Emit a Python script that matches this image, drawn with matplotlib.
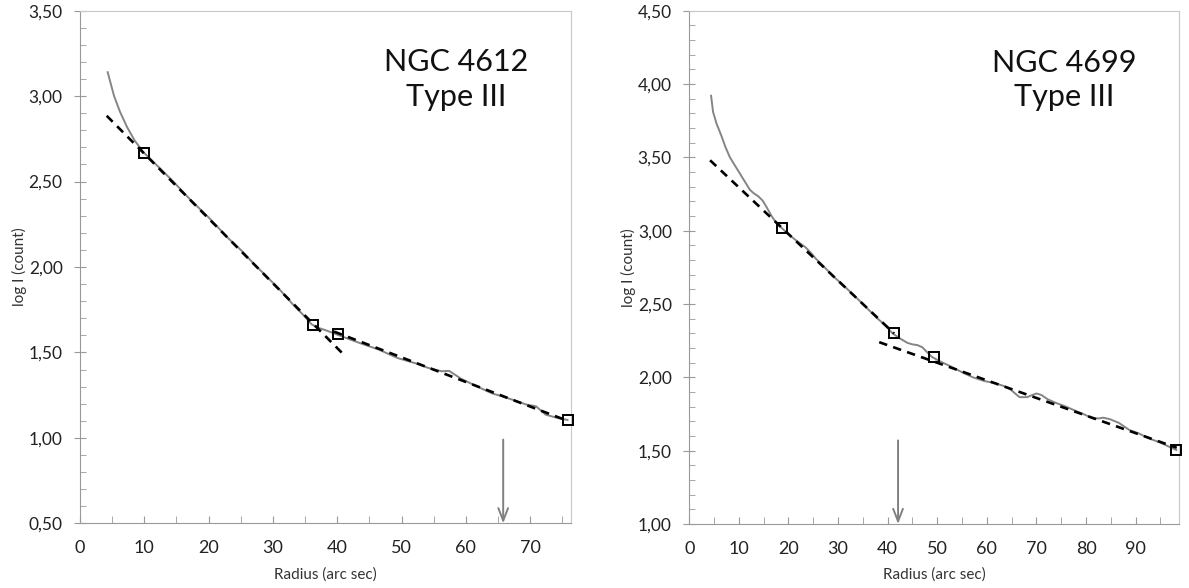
import numpy as np
import matplotlib.pyplot as plt
from matplotlib.ticker import MultipleLocator, FuncFormatter

plt.rcParams['font.family'] = ['Lato', 'DejaVu Sans']

# NGC 4612 profile (radius in arc sec, log I)
r_4612 = [4.3, 5.3, 6.2, 7.3, 8.5, 9.9, 11, 12.5, 14.5, 17, 20, 23, 25, 27, 29, 31, 33,
          34.7, 36.0, 37, 38.2, 39.6, 41, 43.5, 46.5, 49.4, 52.4, 54.1, 56.2, 57.4, 59.3,
          61.8, 64.1, 65.5, 67.1, 69.4, 70.9, 72.4, 74.2, 75.8]
logI_4612 = [3.14, 3.00, 2.91, 2.82, 2.74, 2.67, 2.63, 2.575, 2.50, 2.40, 2.29, 2.17, 2.10,
             2.02, 1.945, 1.87, 1.785, 1.72, 1.665, 1.645, 1.63, 1.61, 1.59, 1.555, 1.516,
             1.467, 1.434, 1.41, 1.39, 1.392, 1.345, 1.30, 1.26, 1.245, 1.225, 1.195, 1.185,
             1.136, 1.117, 1.105]
fit_in_4612_x = [4.15, 40.8]
fit_in_4612_y = [2.885, 1.495]
fit_out_4612_x = [39.5, 75.8]
fit_out_4612_y = [1.622, 1.10]
sq_4612_x = [9.9, 36.2, 40.1, 75.8]
sq_4612_y = [2.67, 1.66, 1.61, 1.105]
break_4612 = 65.8

# NGC 4699 profile
r_4699 = [4.4, 4.8, 5.5, 6.5, 7.3, 8.2, 9.2, 10.2, 11.2, 12.2, 13.0, 13.9, 14.8, 15.6, 16.6,
          17.6, 18.6, 20, 21.5, 22.5, 23.5, 24.5, 25.5, 27, 29, 30.5, 32, 33.5, 35, 36.5, 38,
          39.5, 41.0, 42.5, 44, 45, 46, 47, 48, 48.9, 50.5, 52.7, 55, 57.2, 59.5, 61.7, 63.5,
          64.7, 65.7, 66.6, 68.1, 69.2, 70.0, 71, 72.3, 74, 76.0, 78, 79.8, 81.3, 82.5, 83.5,
          84.8, 86.6, 88.8, 90.5, 92.6, 95, 97.5, 98.2]
logI_4699 = [3.92, 3.81, 3.73, 3.645, 3.57, 3.50, 3.445, 3.39, 3.335, 3.28, 3.255, 3.235, 3.205,
             3.16, 3.10, 3.05, 3.02, 2.975, 2.935, 2.91, 2.885, 2.85, 2.81, 2.76, 2.69, 2.645,
             2.598, 2.55, 2.50, 2.45, 2.40, 2.355, 2.30, 2.265, 2.235, 2.225, 2.22, 2.205, 2.17,
             2.14, 2.11, 2.075, 2.035, 2.00, 1.975, 1.96, 1.94, 1.92, 1.89, 1.865, 1.865, 1.88,
             1.89, 1.88, 1.85, 1.825, 1.80, 1.77, 1.745, 1.72, 1.72, 1.725, 1.715, 1.69, 1.64,
             1.62, 1.585, 1.555, 1.515, 1.505]
fit_in_4699_x = [4.2, 41.3]
fit_in_4699_y = [3.48, 2.30]
fit_out_4699_x = [38.3, 98.3]
fit_out_4699_y = [2.24, 1.52]
sq_4699_x = [18.6, 41.3, 49.3, 98.2]
sq_4699_y = [3.02, 2.30, 2.14, 1.505]
break_4699 = 42.1

panels = [
    dict(r=r_4612, y=logI_4612, fin=(fit_in_4612_x, fit_in_4612_y),
         fout=(fit_out_4612_x, fit_out_4612_y), sq=(sq_4612_x, sq_4612_y),
         brk=break_4612, arrow_top=0.99, xlim=(0, 76.3), ylim=(0.5, 3.5),
         name='NGC 4612\nType III', rect=[0.0673, 0.110, 0.4127, 0.8718]),
    dict(r=r_4699, y=logI_4699, fin=(fit_in_4699_x, fit_in_4699_y),
         fout=(fit_out_4699_x, fit_out_4699_y), sq=(sq_4699_x, sq_4699_y),
         brk=break_4699, arrow_top=1.57, xlim=(0, 98.8), ylim=(1.0, 4.5),
         name='NGC 4699\nType III', rect=[0.5797, 0.1088, 0.4121, 0.873]),
]

fig = plt.figure(figsize=(11.89, 5.88), dpi=100)
comma = FuncFormatter(lambda v, p: f'{v:.2f}'.replace('.', ','))

for p in panels:
    ax = fig.add_axes(p['rect'])
    ax.plot(p['r'], p['y'], color='#858585', lw=1.4, zorder=2)
    for fx, fy in (p['fin'], p['fout']):
        ax.plot(fx, fy, color='black', lw=1.9, linestyle=(0, (3.2, 2.4)), zorder=3)
    ax.plot(p['sq'][0], p['sq'][1], 's', ms=7.5, mfc='none', mec='black', mew=1.4,
            zorder=4, clip_on=False)
    ax.annotate('', xy=(p['brk'], p['ylim'][0]), xytext=(p['brk'], p['arrow_top']),
                arrowprops=dict(arrowstyle='->,head_length=0.9,head_width=0.35',
                                color='#808080', lw=1.4, shrinkA=0, shrinkB=0))
    ax.text(0.766, 0.865, p['name'], transform=ax.transAxes, ha='center', va='center',
            fontsize=22, color='#111111', linespacing=1.3)
    ax.set_xlim(*p['xlim'])
    ax.set_ylim(*p['ylim'])
    ax.xaxis.set_major_locator(MultipleLocator(10))
    ax.xaxis.set_minor_locator(MultipleLocator(5))
    ax.yaxis.set_major_locator(MultipleLocator(0.5))
    ax.yaxis.set_minor_locator(MultipleLocator(0.1))
    ax.yaxis.set_major_formatter(comma)
    ax.tick_params(axis='x', which='both', direction='in', length=5, color='#999999',
                   labelsize=13, labelcolor='#222222', pad=12)
    ax.tick_params(axis='y', which='major', direction='inout', length=9, color='#999999',
                   labelsize=12.5, labelcolor='#222222', pad=8)
    ax.tick_params(axis='y', which='minor', direction='in', length=4, color='#999999')
    for s in ['left', 'bottom']:
        ax.spines[s].set_color('#999999')
    for s in ['top', 'right']:
        ax.spines[s].set_color('#c8c8c8')
    ax.set_xlabel('Radius (arc sec)', fontsize=11, color='#333333', labelpad=8)
    ax.set_ylabel('log I (count)', fontsize=11, color='#333333', labelpad=1)

fig.savefig('out.png', dpi=100)
